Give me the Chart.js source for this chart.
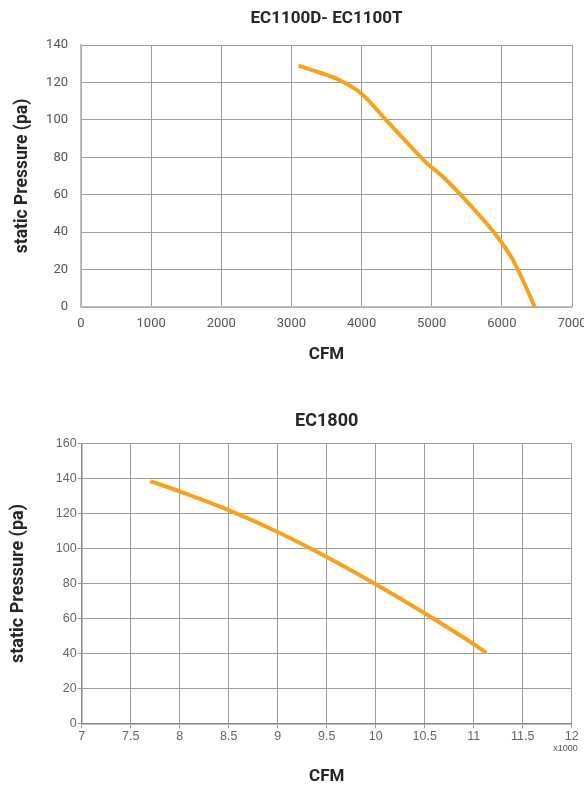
<!DOCTYPE html>
<html>
<head>
<meta charset="utf-8">
<script src="https://cdn.jsdelivr.net/npm/chart.js@4"></script>
<style>
  html, body { margin: 0; padding: 0; background: #fff; overflow: hidden; }
  body { width: 584px; height: 787px; position: relative; }
  .box { position: absolute; left: 0; width: 600px; }
  #box1 { top: 0; height: 390px; }
  #box2 { top: 390px; height: 397px; }
</style>
</head>
<body>
<div class="box" id="box1"><canvas id="chart1"></canvas></div>
<div class="box" id="box2"><canvas id="chart2"></canvas></div>
<script>
// ---- data: EC1100D- EC1100T (CFM / pa)
const fan1Cfm = [3100, 3400, 3690, 4000, 4350, 4640, 4920, 5160, 5420, 5680, 5920, 6160, 6300, 6470];
const fan1Pa = [129, 125.3, 121.2, 114, 99.8, 88.2, 77.2, 69.6, 59.7, 49, 38.3, 25, 14.3, 0];
const fan1XTicks = [0, 1000, 2000, 3000, 4000, 5000, 6000, 7000];

// ---- data: EC1800 (CFM x1000 / pa)
const fan2Cfm = [7.7, 8.0, 8.5, 9.0, 9.5, 10.0, 10.5, 11.0, 11.13];
const fan2Pa = [138.6, 132.7, 122, 109.5, 95.2, 79.6, 63, 45.3, 40.3];

const orange = "#F7A21B";
const titleColor = "#262626";

function toPoints(xs, ys) {
  return xs.map((x, i) => ({ x: x, y: ys[i] }));
}
const plainLabel = (v) => String(v);

// ===== chart 1 =====
new Chart(document.getElementById("chart1"), {
  type: "scatter",
  data: {
    datasets: [{
      data: toPoints(fan1Cfm, fan1Pa),
      showLine: true,
      borderColor: orange,
      borderWidth: 4,
      pointRadius: 0,
      cubicInterpolationMode: "monotone",
    }],
  },
  options: {
    responsive: true,
    maintainAspectRatio: false,
    animation: false,
    layout: { padding: { left: 0, right: 28, top: 0, bottom: 0 } },
    plugins: {
      legend: { display: false },
      tooltip: { enabled: false },
      title: {
        display: true,
        text: "EC1100D- EC1100T",
        fullSize: false,
        color: titleColor,
        font: { family: "Roboto", size: 17, weight: "bold" },
        padding: { top: 9, bottom: 15.6 },
      },
    },
    scales: {
      x: {
        type: "linear",
        min: 0,
        max: 7000,
        afterBuildTicks: (s) => { s.ticks = fan1XTicks.map((v) => ({ value: v })); },
        afterFit: (s) => { s.height = 83; },
        grid: { color: "#9c9c9c", drawTicks: false, lineWidth: 1 },
        border: { color: "#bdbdbd", width: 1.5 },
        ticks: { color: "#555", padding: 9, callback: plainLabel, font: { family: "Roboto", size: 13 } },
        title: {
          display: true,
          text: "CFM",
          color: titleColor,
          font: { family: "Roboto", size: 17, weight: "bold" },
          padding: { top: 0, bottom: 25 },
        },
      },
      y: {
        min: 0,
        max: 140,
        afterFit: (s) => { s.width = 81; },
        grid: { color: "#9c9c9c", drawTicks: false, lineWidth: 1 },
        border: { color: "#bdbdbd", width: 1.5 },
        ticks: { stepSize: 20, color: "#555", padding: 13, callback: plainLabel, font: { family: "Roboto", size: 13 } },
        title: {
          display: true,
          text: "static Pressure (pa)",
          color: titleColor,
          font: { family: "Roboto", size: 17.5, weight: "bold" },
          padding: { top: 12, bottom: 0 },
        },
      },
    },
  },
});

// "x1000" note under the last tick of chart 2
const x1000Note = {
  id: "x1000Note",
  afterDraw(chart) {
    const s = chart.scales.x;
    const ctx = chart.ctx;
    ctx.save();
    ctx.font = "9px 'Liberation Sans'";
    ctx.fillStyle = "#555";
    ctx.textAlign = "right";
    ctx.textBaseline = "middle";
    ctx.fillText("x1000", s.right + 6, s.top + 25);
    ctx.restore();
  },
};

// ===== chart 2 =====
new Chart(document.getElementById("chart2"), {
  type: "scatter",
  data: {
    datasets: [{
      data: toPoints(fan2Cfm, fan2Pa),
      showLine: true,
      borderColor: orange,
      borderWidth: 4,
      pointRadius: 0,
      cubicInterpolationMode: "monotone",
    }],
  },
  options: {
    responsive: true,
    maintainAspectRatio: false,
    animation: false,
    layout: { padding: { left: 0, right: 28.3, top: 0, bottom: 0 } },
    plugins: {
      legend: { display: false },
      tooltip: { enabled: false },
      title: {
        display: true,
        text: "EC1800",
        fullSize: false,
        color: titleColor,
        font: { family: "Roboto", size: 18, weight: "bold" },
        padding: { top: 21, bottom: 11.1 },
      },
    },
    scales: {
      x: {
        type: "linear",
        min: 7,
        max: 12,
        afterFit: (s) => { s.height = 63.7; },
        grid: { color: "#9c9c9c", tickLength: 5, lineWidth: 1 },
        border: { color: "#888", width: 1.5 },
        ticks: { stepSize: 0.5, color: "#666", padding: 1, callback: plainLabel, font: { family: "Liberation Sans", size: 12.5 } },
        title: {
          display: true,
          text: "CFM",
          color: titleColor,
          font: { family: "Roboto", size: 17, weight: "bold" },
          padding: { top: 0, bottom: 0 },
        },
      },
      y: {
        min: 0,
        max: 160,
        afterFit: (s) => { s.width = 81.7; },
        grid: { color: "#9c9c9c", tickLength: 4, lineWidth: 1 },
        border: { color: "#888", width: 1.5 },
        ticks: { stepSize: 20, color: "#666", padding: 1, callback: plainLabel, font: { family: "Liberation Sans", size: 12.5 } },
        title: {
          display: true,
          text: "static Pressure (pa)",
          color: titleColor,
          font: { family: "Roboto", size: 18, weight: "bold" },
          padding: { top: 8, bottom: 0 },
        },
      },
    },
  },
  plugins: [x1000Note],
});
</script>
</body>
</html>
